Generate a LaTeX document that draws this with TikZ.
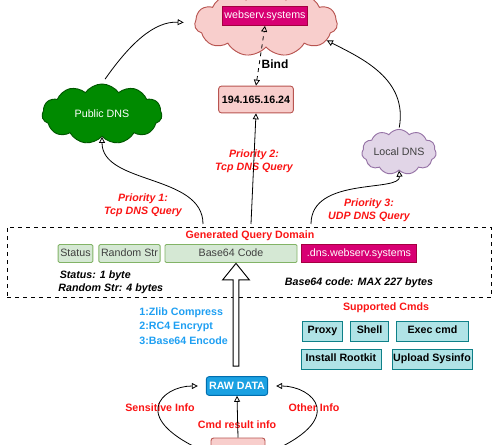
\documentclass[tikz,border=0pt]{standalone}
\usepackage{fontspec}
\setmainfont{Liberation Sans}
\usetikzlibrary{arrows.meta,positioning,shapes.symbols,shapes.arrows,calc}
\definecolor{nred}{HTML}{FA1414}
\definecolor{nblue}{HTML}{1E9FF2}
\definecolor{npinkfill}{HTML}{F8CECC}
\definecolor{npinkline}{HTML}{B85450}
\definecolor{ngreenfill}{HTML}{D5E8D4}
\definecolor{ngreenline}{HTML}{82B366}
\definecolor{nmagfill}{HTML}{D80073}
\definecolor{nmagline}{HTML}{A50040}
\definecolor{ntealfill}{HTML}{B0E3E6}
\definecolor{ntealline}{HTML}{0E8088}
\definecolor{npurfill}{HTML}{E1D5E7}
\definecolor{npurline}{HTML}{9673A6}
\definecolor{ndnsfill}{HTML}{008A00}
\definecolor{ndnsline}{HTML}{005700}
\definecolor{nrawfill}{HTML}{1BA1E2}
\definecolor{nrawline}{HTML}{006EAF}
\tikzset{
  base/.style={font=\fontsize{8}{10}\selectfont, inner sep=0pt, align=center, line width=0.7pt},
  strut/.style={text height=5.9pt, text depth=1.7pt},
  field/.style={base, strut, draw=ngreenline, fill=ngreenfill, text=black!75, rounded corners=1pt, minimum height=13.5pt},
  magbox/.style={base, strut, draw=nmagline, fill=nmagfill, text=white, minimum height=13.5pt},
  cmd/.style={base, strut, draw=ntealline, fill=ntealfill, font=\fontsize{8}{10}\selectfont\bfseries, minimum height=15pt},
  pinkbox/.style={base, draw=npinkline, fill=npinkfill, rounded corners=2pt},
  puff/.style={base, cloud, cloud puffs=11, cloud puff arc=110, aspect=2},
  arr/.style={-{Triangle[open,length=4.5pt,width=4.5pt]}, draw=black, line width=0.6pt},
  redlbl/.style={base, text=nred, font=\fontsize{8}{9.6}\selectfont\bfseries},
  querylbl/.style={redlbl, font=\fontsize{8}{9.8}\selectfont\bfseries\itshape},
  notelbl/.style={base, font=\fontsize{8}{9.8}\selectfont\bfseries\itshape, align=left},
  steplbl/.style={base, text=nblue, font=\fontsize{8}{10}\selectfont\bfseries, anchor=west},
}
\begin{document}
\begin{tikzpicture}[x=0.75pt,y=-0.75pt]
  \useasboundingbox (0,0) rectangle (500,445);
  \clip (0,0) rectangle (500,445);
  % Top row
  \node[puff, draw=npinkline, fill=npinkfill, aspect=2.1, minimum width=107pt, minimum height=50pt] (server) at (266,23) {};
  \node[magbox, minimum width=64pt, minimum height=14pt] (webserv) at (265,16) {webserv.systems};
  \node[pinkbox, font=\fontsize{8}{10}\selectfont\bfseries, minimum width=56pt, minimum height=20pt] (ip) at (256,99.5) {194.165.16.24};
  % Resolvers
  \node[puff, draw=ndnsline, fill=ndnsfill, text=white, minimum width=90pt, minimum height=45pt] (pubdns) at (102,114) {Public DNS};
  \node[puff, draw=npurline, fill=npurfill, text=black!75, minimum width=54pt, minimum height=27pt] (localdns) at (399,152) {Local DNS};

  % Query domain
  \node[base, draw, dashed, minimum width=363pt, minimum height=53pt] (frame) at (249,262.5) {};
  \node[redlbl] (qtitle) at (250,236) {Generated Query Domain};
  \node[field, minimum width=26pt] (status) at (75.5,253.5) {Status};
  \node[field, minimum width=46pt] (randstr) at (129.5,253.5) {Random Str};
  \node[field, minimum width=99pt] (b64) at (231,253.5) {Base64 Code};
  \node[magbox, minimum width=86pt] (dnsdom) at (359,253.5) {.dns.webserv.systems};
  \node[notelbl, anchor=north west] (sizes) at (58,270) {\hspace{1pt}Status: 1 byte\\Random Str: 4 bytes};
  \node[notelbl] (b64max) at (359,283) {Base64 code: MAX 227 bytes};

  % Start of the queries, just above the frame
  \coordinate (q1) at (203,224);
  \coordinate (q2) at (251,224);
  \coordinate (q3) at (311,224);

  % Query labels
  \node[querylbl] (prio1) at (143,205) {Priority 1:\\Tcp DNS Query};
  \node[querylbl] (prio2) at (254,161) {Priority 2:\\Tcp DNS Query};
  \node[querylbl] (prio3) at (369,210) {Priority 3:\\UDP DNS Query};

  % Raw data
  \node[base, draw=nrawline, fill=nrawfill, text=white, rounded corners=2pt, font=\fontsize{8}{10}\selectfont\bfseries, minimum width=46pt, minimum height=14pt] (raw) at (237,386) {RAW DATA};
  \node[single arrow, draw, fill=white, line width=0.7pt, shape border rotate=90, minimum width=20pt, minimum height=77pt, single arrow head extend=6.7pt, single arrow tip angle=78, inner sep=1.5pt] (up) at (236,316.5) {};
  \node[steplbl] (s1) at (139,313) {1:Zlib Compress};
  \node[steplbl] (s2) at (139,327) {2:RC4 Encrypt};
  \node[steplbl] (s3) at (139,341) {3:Base64 Encode};
  \node[pinkbox, minimum width=40.5pt, minimum height=24pt] (bot) at (238,454) {};
  \node[redlbl] (sens) at (160,408) {Sensitive Info};
  \node[redlbl] (cmdres) at (237,425) {Cmd result info};
  \node[redlbl] (other) at (314,408) {Other Info};

  % Supported commands
  \node[redlbl] (cmdtitle) at (386,308) {Supported Cmds};
  \node[cmd, minimum width=30.5pt] (proxy) at (322.5,331) {Proxy};
  \node[cmd, minimum width=28.5pt] (shell) at (369.5,331) {Shell};
  \node[cmd, minimum width=53.5pt] (exec) at (432.5,331) {Exec cmd};
  \node[cmd, minimum width=60pt] (rootkit) at (341,359) {Install Rootkit};
  \node[cmd, minimum width=60pt] (upload) at (432,359) {Upload Sysinfo};

  % Connectors
  \draw[arr, shorten <=4pt, shorten >=8pt] (pubdns.north) .. controls +(28,-40) and +(-40,-2) .. (server.west);
  \draw[arr, shorten <=1pt] (localdns.north) .. controls +(9,-50) and +(35,18) .. (server.-16);
  \draw[arr, dashed, {Triangle[open,length=4.5pt,width=4.5pt]}-{Triangle[open,length=4.5pt,width=4.5pt]}] (ip.north) -- (webserv.south);
  \node[base, font=\fontsize{9}{11}\selectfont\bfseries] (bind) at (275,64.5) {Bind};
  \draw[arr] (q1) .. controls +(0,-50) and +(0,48) .. (pubdns.south);
  \draw[arr] (q2) -- (ip.south);
  \draw[arr] (q3) .. controls +(0,-48) and +(2,22) .. (localdns.south);
  \draw[arr] (bot.north) -- (raw.south);
  \draw[arr, shorten >=6pt] (bot.west) .. controls +(-85,-35) and +(-44,0) .. (raw.west);
  \draw[arr, shorten >=6pt] (bot.east) .. controls +(85,-35) and +(44,0) .. (raw.east);
\end{tikzpicture}
\end{document}
